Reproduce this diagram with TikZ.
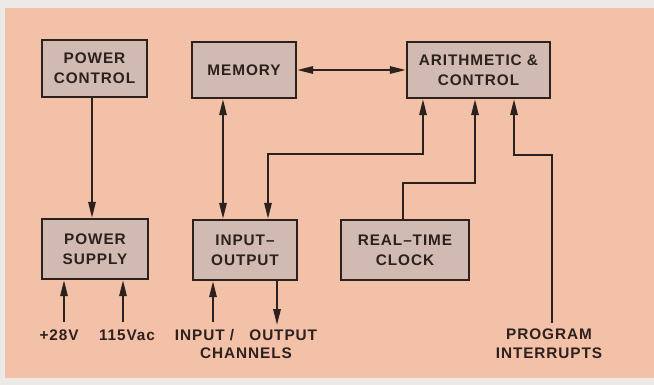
\documentclass[tikz,border=0pt]{standalone}
\usepackage{fontspec}
\setmainfont[LetterSpace=6]{Liberation Sans}
\usetikzlibrary{arrows.meta, positioning}
\definecolor{peach}{RGB}{243,192,168}
\definecolor{margin}{RGB}{236,233,231}
\definecolor{boxfill}{RGB}{208,186,178}
\definecolor{ink}{RGB}{45,33,30}

\begin{document}
\begin{tikzpicture}[x=0.75pt, y=-0.75pt,
		block/.style={rectangle, draw=ink, fill=boxfill, line width=1.7pt, text=ink, align=center, inner sep=0pt, font=\fontsize{11.5}{15}\selectfont\bfseries},
		caption/.style={text=ink, align=center, inner sep=1pt, font=\fontsize{11.5}{14}\selectfont\bfseries},
		wire/.style={draw=ink, line width=1.5pt},
		post/.style={wire, -{Triangle[length=12pt, width=5.5pt]}},
		both/.style={wire, {Triangle[length=12pt, width=5.5pt]}-{Triangle[length=12pt, width=5.5pt]}}
		]
		\fill[margin] (0,0) rectangle (654,385);
		\fill[peach] (5,8) rectangle (654,378);

		\node [block, minimum width=105*0.75pt, minimum height=57*0.75pt] (power control) at (94.5,68.5) {POWER\\CONTROL};
		\node [block, minimum width=104*0.75pt, minimum height=56*0.75pt] (memory) at (244,70) {MEMORY};
		\node [block, minimum width=143*0.75pt, minimum height=56*0.75pt] (arith) at (478.5,70) {ARITHMETIC \&\\CONTROL};
		\node [block, minimum width=106*0.75pt, minimum height=60*0.75pt] (power supply) at (95,249) {POWER\\SUPPLY};
		\node [block, minimum width=104*0.75pt, minimum height=60*0.75pt] (io) at (245,250) {INPUT--\\OUTPUT};
		\node [block, minimum width=128*0.75pt, minimum height=60*0.75pt] (clock) at (405,250) {REAL--TIME\\CLOCK};

		\node [caption] (v28) at (59,335.5) {+28V};
		\node [caption] (v115) at (127,335.5) {115Vac};
		\node [caption] (channels) at (246,344) {INPUT /\quad OUTPUT\\CHANNELS};
		\node [caption] (interrupts) at (549,344) {PROGRAM\\INTERRUPTS};

		% free ends and bends
		\coordinate (in28) at (64,322);
		\coordinate (in115) at (123,322);
		\coordinate (chin) at (213,322);
		\coordinate (chout) at (277,325);
		\coordinate (iobus) at (268,154);
		\coordinate (acbus) at (423,154);
		\coordinate (clkbus) at (403,183);
		\coordinate (acclk) at (475,183);
		\coordinate (pibus) at (552,323);
		\coordinate (acpi) at (514,155);

		\draw [post] (power control.south -| 92,0) -- (power supply.north -| 92,0);
		\draw [both] (memory.east) -- (memory.east -| arith.west);
		\draw [both] (memory.south -| 223,0) -- (io.north -| 223,0);
		\draw [both] (io.north -| iobus) -- (iobus) -- (acbus) -- (arith.south -| acbus);
		\draw [post] (clock.north -| clkbus) -- (clkbus) -- (acclk) -- (arith.south -| acclk);
		\draw [post] (pibus) |- (acpi) -- (arith.south -| acpi);

		\draw [post] (in28) -- (in28 |- power supply.south);
		\draw [post] (in115) -- (in115 |- power supply.south);
		\draw [post] (chin) -- (chin |- io.south);
		\draw [post] (chout |- io.south) -- (chout);
	\end{tikzpicture}
\end{document}
